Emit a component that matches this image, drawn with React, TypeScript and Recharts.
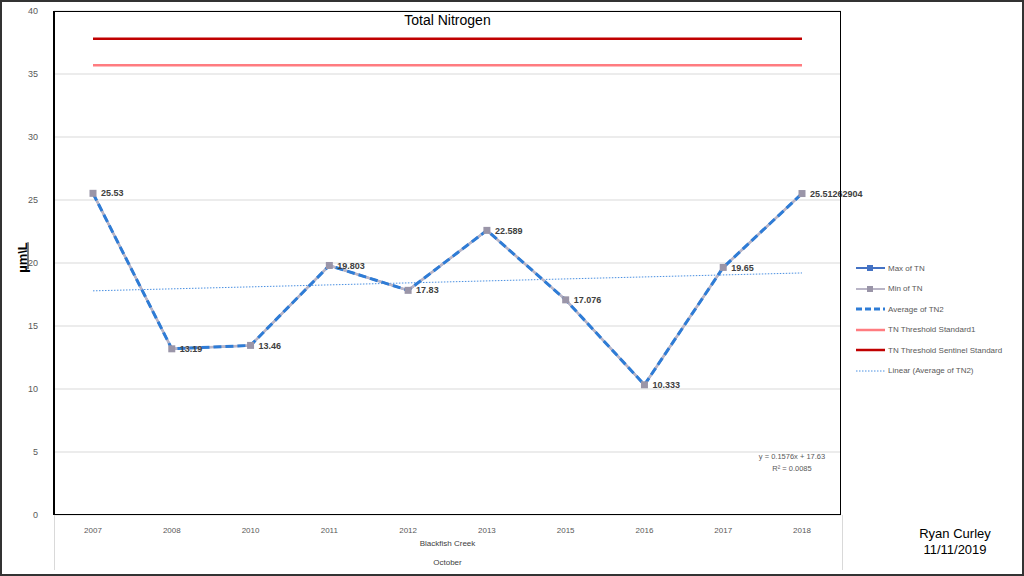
import { LineChart, Line, XAxis, YAxis, CartesianGrid, LabelList } from "recharts";

const years = ["2007", "2008", "2010", "2011", "2012", "2013", "2015", "2016", "2017", "2018"];
const maxTN = [25.53, 13.19, 13.46, 19.803, 17.83, 22.589, 17.076, 10.333, 19.65, 25.51262904];
const minTN = [25.53, 13.19, 13.46, 19.803, 17.83, 22.589, 17.076, 10.333, 19.65, 25.51262904];
const avgTN = [25.53, 13.19, 13.46, 19.803, 17.83, 22.589, 17.076, 10.333, 19.65, 25.51262904];
const thresholdStandard = [35.7, 35.7, 35.7, 35.7, 35.7, 35.7, 35.7, 35.7, 35.7, 35.7];
const sentinelStandard = [37.8, 37.8, 37.8, 37.8, 37.8, 37.8, 37.8, 37.8, 37.8, 37.8];
// trendline end points as drawn (y = 0.1576x + 17.63)
const trend = [17.79, null, null, null, null, null, null, null, null, 19.21];
const yTicks = [0, 5, 10, 15, 20, 25, 30, 35, 40];

const data = years.map((year, i) => ({
    year,
    max: maxTN[i],
    min: minTN[i],
    avg: avgTN[i],
    std: thresholdStandard[i],
    sentinel: sentinelStandard[i],
    trend: trend[i]
}));

const FONT = "'Liberation Sans', Arial, sans-serif";

const legendItems = [
    { label: "Max of TN", color: "#4472C4", width: 2, dash: undefined, marker: "#4472C4" },
    { label: "Min of TN", color: "#B9B5C6", width: 2, dash: undefined, marker: "#9A95A8" },
    { label: "Average of TN2", color: "#2E7CD6", width: 3, dash: "6 3", marker: null },
    { label: "TN Threshold Standard1", color: "#FF7C80", width: 2.5, dash: undefined, marker: null },
    { label: "TN Threshold Sentinel Standard", color: "#C00000", width: 2.5, dash: undefined, marker: null },
    { label: "Linear (Average of TN2)", color: "#4A90E2", width: 1, dash: "1.5 1.5", marker: null }
];

const PointLabel = (props: any) => {
    const { x, y, value } = props;
    return (
        <text x={x + 8} y={y} dy="0.35em" fontSize={9} fontWeight={600} fill="#404040" fontFamily={FONT}>
            {value}
        </text>
    );
};

export default function App() {
    return (
        <div style={{ position: "absolute", left: 0, top: 0, width: 1024, height: 576, background: "#fff", fontFamily: FONT }}>
            <LineChart width={1024} height={576} data={data} margin={{ top: 11, right: 183, left: 0, bottom: 41 }}>
                <CartesianGrid vertical={false} stroke="#D9D9D9" />
                <XAxis
                    dataKey="year"
                    tick={{ fill: "#595959", fontSize: 8, fontFamily: FONT }}
                    tickLine={false}
                    axisLine={false}
                    tickMargin={6}
                    height={20}
                    interval={0}
                    padding={{ left: 39, right: 39 }}
                />
                <YAxis
                    domain={[0, 40]}
                    ticks={yTicks}
                    width={54}
                    tick={{ fill: "#595959", fontSize: 9, fontFamily: FONT }}
                    tickLine={false}
                    axisLine={false}
                    tickMargin={10}
                />
                <Line dataKey="sentinel" stroke="#C00000" strokeWidth={2.5} dot={false} isAnimationActive={false} />
                <Line dataKey="std" stroke="#FF7C80" strokeWidth={2.5} dot={false} isAnimationActive={false} />
                <Line dataKey="trend" stroke="#4A90E2" strokeWidth={1} strokeDasharray="1.5 1.5" dot={false} connectNulls isAnimationActive={false} />
                <Line
                    dataKey="max"
                    stroke="#4472C4"
                    strokeWidth={2}
                    dot={false}
                    isAnimationActive={false}
                />
                <Line
                    dataKey="min"
                    stroke="#B9B5C6"
                    strokeWidth={2.5}
                    dot={false}
                    isAnimationActive={false}
                />
                <Line dataKey="avg" stroke="#2E7CD6" strokeWidth={3} strokeDasharray="8 4" dot={false} isAnimationActive={false}>
                    <LabelList dataKey="avg" content={PointLabel} />
                </Line>
                <Line
                    dataKey="min"
                    stroke="none"
                    legendType="none"
                    isAnimationActive={false}
                    dot={(p: any) => (
                        <rect key={p.index} x={p.cx - 3.5} y={p.cy - 3.5} width={7} height={7} fill="#9A95A8" />
                    )}
                    activeDot={false}
                />
            </LineChart>

            {/* plot area border */}
            <div style={{ position: "absolute", left: 53, top: 11, width: 788, height: 504, border: "1.5px solid #000", borderLeftWidth: 2, boxSizing: "border-box", pointerEvents: "none" }} />
            <div style={{ position: "absolute", left: 0, top: 0, width: 1024, height: 576, border: "2px solid #333", boxSizing: "border-box", pointerEvents: "none" }} />

            {/* category separators */}
            <div style={{ position: "absolute", left: 54, top: 515, width: 1, height: 55, background: "#D9D9D9" }} />
            <div style={{ position: "absolute", left: 842, top: 515, width: 1, height: 55, background: "#D9D9D9" }} />

            <div style={{ position: "absolute", left: 54, width: 787, top: 11, textAlign: "center", fontSize: 14, color: "#000", lineHeight: "18px" }}>Total Nitrogen</div>
            <div style={{ position: "absolute", left: 54, width: 787, top: 539, textAlign: "center", fontSize: 8, color: "#404040" }}>Blackfish Creek</div>
            <div style={{ position: "absolute", left: 54, width: 787, top: 558, textAlign: "center", fontSize: 8, color: "#404040" }}>October</div>

            <div style={{ position: "absolute", left: -8, top: 250, width: 60, textAlign: "center", fontSize: 13, fontWeight: 700, textDecoration: "underline", transform: "rotate(-90deg)", color: "#000", whiteSpace: "nowrap" }}>{"µm\\L"}</div>

            <div style={{ position: "absolute", left: 742, width: 100, top: 451, textAlign: "center", fontSize: 7.5, color: "#595959", lineHeight: "12px" }}>
                y = 0.1576x + 17.63<br />R² = 0.0085
            </div>

            <div style={{ position: "absolute", left: 900, width: 110, top: 526, textAlign: "center", fontSize: 13, color: "#000", lineHeight: "16px" }}>
                Ryan Curley<br />11/11/2019
            </div>

            <div style={{ position: "absolute", left: 855, top: 258 }}>
                {legendItems.map((item) => (
                    <div key={item.label} style={{ display: "flex", alignItems: "center", height: 20.5, fontSize: 8, color: "#595959" }}>
                        <svg width={31} height={10} style={{ marginRight: 2 }}>
                            <line x1={1} y1={5} x2={30} y2={5} stroke={item.color} strokeWidth={item.width} strokeDasharray={item.dash} />
                            {item.marker && <rect x={12} y={2} width={6} height={6} fill={item.marker} />}
                        </svg>
                        {item.label}
                    </div>
                ))}
            </div>
        </div>
    );
}
